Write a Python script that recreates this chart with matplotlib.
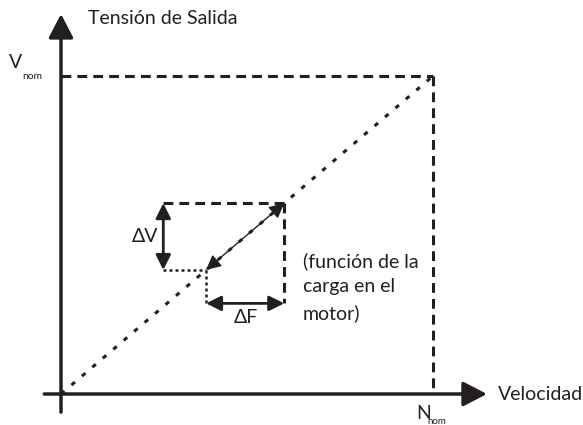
import matplotlib.pyplot as plt

# Diagram values (normalised: V_nom = 1, N_nom = 1)
v_nom = 1.0
n_nom = 1.0
ramp_speed = [0.0, 1.0]
ramp_voltage = [0.0, 1.0]
speed_low, speed_high = 0.39, 0.60      # operating points on the V/f ramp
dv_marker_x = 0.275                     # where the ΔV arrow sits
x_axis_end, y_axis_end = 1.145, 1.195

labels = {
    "y": "Tensión de Salida",
    "x": "Velocidad",
    "note": "(función de la\ncarga en el\nmotor)",
}

ink = "#231f20"
plt.rcParams['font.family'] = ['Lato', 'DejaVu Sans']

fig = plt.figure(figsize=(5.83, 4.25), dpi=100)
ax = fig.add_axes([0, 0, 1, 1])
ax.set_xlim(-61 / 372, (583 - 61) / 372)
ax.set_ylim(-(425 - 394) / 318, 394 / 318)
ax.axis('off')


def arrow(p0, p1, style, lw, scale):
    ax.annotate('', xy=p1, xytext=p0,
                arrowprops=dict(arrowstyle=style, lw=lw, color=ink,
                                mutation_scale=scale, shrinkA=0, shrinkB=0))


dashed = (0, (3.2, 2.0))

# axes with big triangle heads
arrow((-0.045, 0), (x_axis_end, 0), '-|>,head_length=1,head_width=0.52', 2.5, 14.5)
arrow((0, -0.057), (0, y_axis_end), '-|>,head_length=1,head_width=0.52', 2.5, 14.5)

# nominal box
ax.plot([0, n_nom], [v_nom, v_nom], ls=dashed, lw=2.2, color=ink)
ax.plot([n_nom, n_nom], [v_nom, 0], ls=dashed, lw=2.2, color=ink)

# V/f ramp
ax.plot(ramp_speed, ramp_voltage, ls=(0, (1.5, 3.0)), lw=2.2, color=ink)

lo = speed_low * v_nom / n_nom
hi = speed_high * v_nom / n_nom
f_y = lo - (hi - lo) * 0.5

# step rectangle
ax.plot([dv_marker_x, speed_high], [hi, hi], ls=dashed, lw=2.2, color=ink)
ax.plot([speed_high, speed_high], [hi, f_y], ls=dashed, lw=2.2, color=ink)
ax.plot([dv_marker_x, speed_low], [lo, lo], ls=(0, (1.2, 1.2)), lw=1.8, color=ink)
ax.plot([speed_low, speed_low], [lo, f_y], ls=(0, (1.2, 1.2)), lw=1.8, color=ink)

# ΔV, ΔF and load arrows
arrow((dv_marker_x, hi), (dv_marker_x, lo), '<|-|>,head_length=0.9,head_width=0.45', 2, 10)
arrow((speed_low, f_y), (speed_high, f_y), '<|-|>,head_length=0.9,head_width=0.45', 2, 10)
arrow((speed_low, lo), (speed_high, hi), '<|-|>,head_length=0.9,head_width=0.45', 1, 10)

# text
fs = 14
ax.text(0.073, 1.182, labels["y"], fontsize=fs, color=ink, va='center')
ax.text(x_axis_end + 0.03, 0, labels["x"], fontsize=fs, color=ink, va='center')
ax.text(-0.121, 1.041, "V", fontsize=fs, color=ink, va='center', ha='center')
ax.text(-0.078, 0.997, "nom", fontsize=7.5, color=ink, va='center', ha='center')
ax.text(0.976, -0.060, "N", fontsize=fs, color=ink, va='center', ha='center')
ax.text(1.011, -0.088, "nom", fontsize=7, color=ink, va='center', ha='center')
ax.text(0.226, (hi + lo) / 2, "ΔV", fontsize=fs, color=ink, va='center', ha='center')
ax.text((speed_low + speed_high) / 2 + 0.002, 0.242, "ΔF", fontsize=fs, color=ink,
        va='center', ha='center')
ax.text(0.65, 0.447, labels["note"], fontsize=fs, color=ink,
        va='top', ha='left', linespacing=1.6)

fig.savefig("out.png", dpi=100)
